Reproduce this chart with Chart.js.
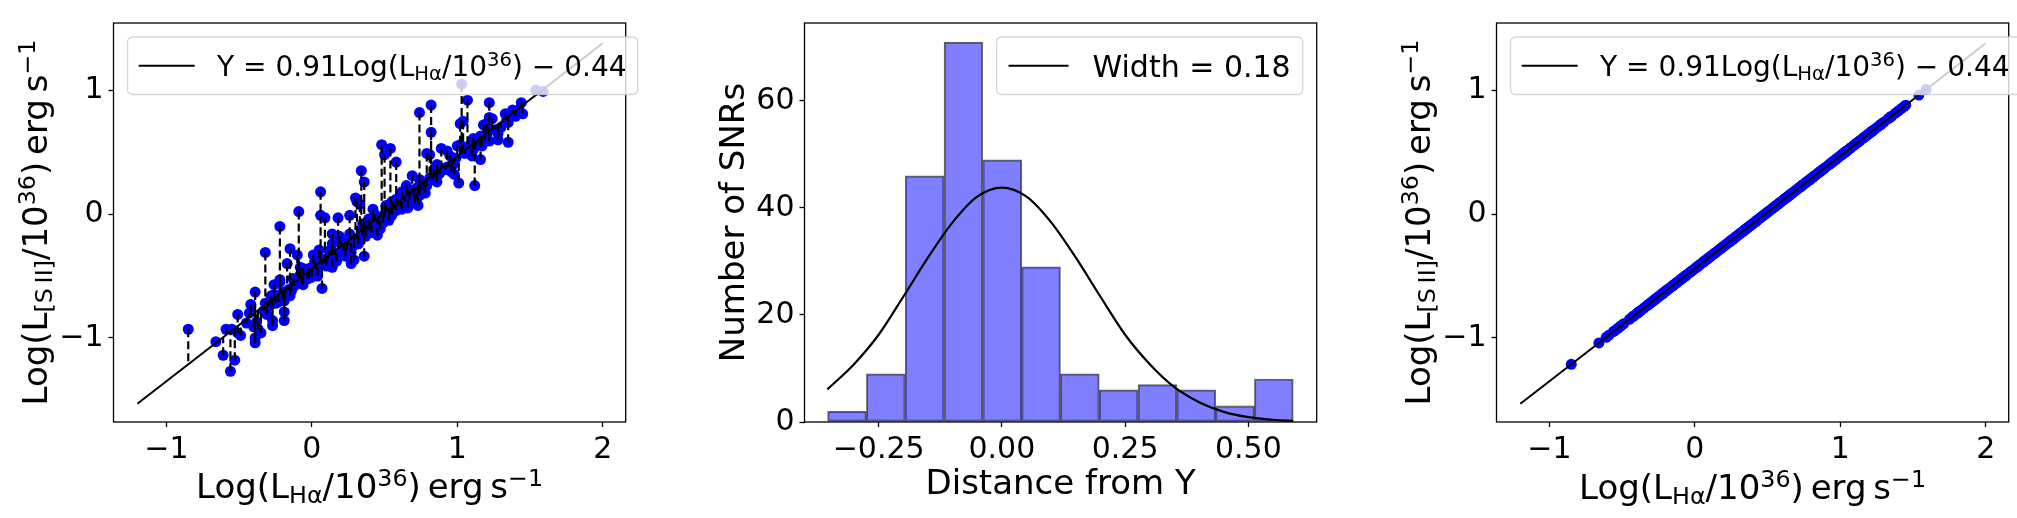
<!DOCTYPE html>
<html>
<head>
<meta charset="utf-8">
<script src="https://cdn.jsdelivr.net/npm/chart.js@4.4.1/dist/chart.umd.min.js"></script>
<style>
  html, body { margin: 0; padding: 0; background: #fff; overflow: hidden; width: 2017px; height: 518px; }
  canvas { position: absolute; top: 0; }
</style>
</head>
<body>
<canvas id="lumChart" width="670" height="518" style="left:0px"></canvas>
<canvas id="histChart" width="670" height="518" style="left:691px"></canvas>
<canvas id="projChart" width="634" height="518" style="left:1383px"></canvas>
<script>
const FONT = 'DejaVu Sans';
const TICK_SIZE = 30, TITLE_SIZE = 34;
const BLUE = '#0000ff';

// --- luminosity panels (left + right) ---
// log L(Halpha) for each SNR
const lumHa = [
  -0.85, -0.66, -0.61, -0.56, -0.53, -0.59, -0.55, -0.51, -0.49, -0.51,
  -0.42, -0.39, -0.42, -0.40, -0.38, -0.35, -0.39, -0.39, -0.37, -0.31,
  -0.26, -0.29, -0.27, -0.27, -0.19, -0.22, -0.23, -0.19, -0.16, -0.15,
  -0.20, -0.32, -0.22, -0.09, -0.15, -0.10, -0.17, -0.08, -0.06, -0.22,
  -0.20, -0.26, -0.32, -0.19, -0.12, -0.08, -0.03, 0.00, -0.06, 0.06,
  0.06, 0.09, 0.18, 0.26, 0.31, 0.33, 0.14, 0.19, 0.13, 0.01,
  0.06, 0.05, 0.09, 0.14, 0.07, -0.02, 0.02, 0.23, 0.27, 0.24,
  0.29, 0.36, 0.35, 0.39, 0.42, 0.28, 0.48, 0.54, 0.58, 0.50,
  0.34, 0.36, 0.30, 0.14, 0.24, 0.29, 0.42, 0.39, 0.43, 0.47,
  0.50, 0.55, 0.58, 0.45, 0.54, 0.65, 0.69, 0.72, 0.71, 0.74,
  0.78, 0.81, 0.84, 0.89, 0.93, 0.87, 0.92, 0.66, 0.63, 0.62,
  0.82, 0.74, 1.07, 1.22, 0.82, 1.02, 1.02, 1.07, 1.11, 1.12,
  1.16, 1.20, 1.22, 1.28, 1.33, 1.35, 1.38, 1.35, 1.22, 1.17,
  0.79, 1.00, 1.09, 0.93, 0.96, 0.98, 1.01, 0.81, 0.79, 0.77,
  0.86, 0.64, 0.72, 0.77, 0.59, 0.55, 0.62, 0.73, 1.14, 1.10,
  1.03, 1.44, 1.54, 1.59, 1.45, 1.40, 1.34, 1.28, 1.24, 1.18,
  1.21, 1.16, 1.11, 1.04, 1.04, -0.45, -0.33, -0.30, -0.25, -0.24,
  -0.18, -0.14, -0.12, -0.10, -0.07, -0.04, -0.02, 0.03, 0.04, 0.08,
  0.10, 0.11, 0.16, 0.17, 0.21, 0.22, 0.25, 0.27, 0.31, 0.32,
  0.34, 0.37, 0.38, 0.40, 0.41, 0.44, 0.46, 0.48, 0.49, 0.52,
  0.53, 0.56, 0.57, 0.60, 0.61, 0.64, 0.67, 0.68, 0.70, 0.75,
  0.76, 0.79, 0.83, 0.85, 0.88, 0.90, 0.94, 0.97, 0.99, 1.05,
  1.13, 1.19, 1.26, 1.30, 1.42, -0.43, -0.28, -0.13, 0.02, 0.12,
  0.20, 0.26, 0.35, 0.43, 0.51, 0.58, 0.66, 0.74, 0.86, 0.95
];
// log L([SII]) for each SNR, same order
const lumSii = [
  -0.93, -1.03, -1.14, -1.27, -1.18, -0.93, -0.93, -0.81, -0.98, -0.96,
  -0.73, -0.63, -0.79, -0.91, -0.87, -0.96, -1.00, -1.04, -0.93, -0.81,
  -0.57, -0.73, -0.86, -0.90, -0.79, -0.55, -0.71, -0.86, -0.61, -0.66,
  -0.69, -0.31, -0.10, 0.02, -0.28, -0.33, -0.40, -0.43, -0.44, -0.53,
  -0.63, -0.65, -0.72, -0.70, -0.56, -0.49, -0.52, -0.51, -0.57, 0.18,
  -0.01, -0.03, -0.03, -0.01, 0.10, 0.08, -0.16, -0.18, -0.29, -0.33,
  -0.36, -0.29, -0.39, -0.43, -0.60, -0.44, -0.40, -0.34, -0.40, -0.23,
  -0.25, -0.34, -0.18, -0.13, -0.03, -0.20, 0.56, 0.53, 0.42, 0.48,
  0.35, 0.26, 0.13, -0.24, -0.29, -0.37, 0.04, -0.04, -0.06, -0.12,
  -0.03, -0.01, 0.03, -0.17, 0.01, 0.23, 0.31, 0.21, 0.09, 0.15,
  0.17, 0.48, 0.36, 0.53, 0.51, 0.32, 0.36, 0.05, 0.13, 0.18,
  0.88, 0.82, 0.92, 0.90, 0.66, 0.73, 0.56, 0.53, 0.52, 0.23,
  0.44, 0.73, 0.78, 0.65, 0.81, 0.58, 0.84, 0.74, 0.59, 0.55,
  0.49, 0.55, 0.56, 0.38, 0.34, 0.32, 0.25, 0.29, 0.23, 0.21,
  0.26, 0.14, 0.12, 0.19, 0.07, 0.10, 0.04, 0.07, 0.58, 0.47,
  1.05, 0.90, 1.00, 0.99, 0.81, 0.79, 0.76, 0.60, 0.77, 0.72,
  0.66, 0.63, 0.61, 0.75, 0.54, -0.88, -0.78, -0.75, -0.72, -0.66,
  -0.64, -0.62, -0.58, -0.55, -0.56, -0.49, -0.52, -0.45, -0.50, -0.40,
  -0.42, -0.36, -0.33, -0.38, -0.27, -0.30, -0.25, -0.31, -0.20, -0.24,
  -0.14, -0.18, -0.12, -0.09, -0.15, -0.05, -0.09, -0.02, -0.07, 0.02,
  -0.05, 0.05, 0.03, 0.09, 0.06, 0.10, 0.12, 0.16, 0.15, 0.20,
  0.24, 0.26, 0.28, 0.30, 0.33, 0.37, 0.38, 0.40, 0.45, 0.49,
  0.55, 0.60, 0.68, 0.70, 0.84, -0.80, -0.66, -0.52, -0.38, -0.30,
  -0.22, -0.16, -0.08, 0.00, 0.07, 0.12, 0.20, 0.28, 0.40, 0.47
];
// fitted relation shown in the legend
const fitSlope = 0.91, fitIntercept = -0.44;
const fitEnds = [-1.2, 2.0];
const lumXTicks = [-1, 0, 1, 2];
const lumYTicks = [-1, 0, 1];
const lumXRange = [-1.364, 2.158];
const lumYRange = [-1.679, 1.543];

// --- histogram panel (middle) ---
const binEdges = [-0.3535, -0.2748, -0.1961, -0.1174, -0.0386, 0.0401, 0.1188,
                  0.1975, 0.2762, 0.3549, 0.4336, 0.5123, 0.5910];
const binCounts = [2, 9, 46, 71, 49, 29, 9, 6, 7, 6, 3, 8];
const gaussX = [-0.354, -0.30, -0.25, -0.20, -0.15, -0.10, -0.05, 0.00, 0.05, 0.10,
                0.15, 0.20, 0.25, 0.30, 0.35, 0.40, 0.45, 0.50, 0.55, 0.591];
const gaussY = [6.1, 10.8, 16.3, 23.4, 30.7, 37.3, 42.1, 43.8, 42.1, 37.3,
                30.7, 23.4, 16.3, 10.8, 6.5, 3.7, 1.9, 0.9, 0.42, 0.2];
const histXTicks = [-0.25, 0, 0.25, 0.5];
const histYTicks = [0, 20, 40, 60];
const histXRange = [-0.4004, 0.6386];
const histYRange = [0, 74.55];

// text pieces (sub/superscripts drawn by hand)
const lumXTitle = [{t: 'Log(L'}, {t: 'Hα', s: 'sub'}, {t: '/10'}, {t: '36', s: 'sup'}, {t: ')\u2009erg\u2009s'}, {t: '−1', s: 'sup'}];
const lumYTitle = [{t: 'Log(L'}, {t: '[S\u2009II]', s: 'sub'}, {t: '/10'}, {t: '36', s: 'sup'}, {t: ')\u2009erg\u2009s'}, {t: '−1', s: 'sup'}];
const fitLabel = [{t: 'Y = 0.91Log(L'}, {t: 'Hα', s: 'sub'}, {t: '/10'}, {t: '36', s: 'sup'}, {t: ') − 0.44'}];
const widthLabel = [{t: 'Width = 0.18'}];

const AREA = {left: 113.5, top: 9.3, right: 625.7, bottom: 422};

function setFont(ctx, p, size) {
  ctx.font = (p.s ? size * 0.7 : size) + 'px "' + FONT + '"';
}
function richWidth(ctx, parts, size) {
  let w = 0;
  for (const p of parts) { setFont(ctx, p, size); w += ctx.measureText(p.t).width; }
  return w;
}
function drawRich(ctx, parts, x, y, size) {
  for (const p of parts) {
    setFont(ctx, p, size);
    const dy = p.s === 'sub' ? 0.14 * size : (p.s === 'sup' ? -0.34 * size : 0);
    ctx.fillText(p.t, x, y + dy);
    x += ctx.measureText(p.t).width;
  }
}

function drawLegend(chart, parts, side, F) {
  const ctx = chart.ctx, a = chart.chartArea;
  ctx.save();
  const tw = richWidth(ctx, parts, F);
  const pad = 0.4 * F, hl = 2 * F, htp = 0.8 * F;
  const w = pad + hl + htp + tw + pad, h = 57.5;
  const x0 = side === 'left' ? a.left + 14 : a.right - 14 - w;
  const y0 = a.top + 14;
  const r = 5;
  ctx.beginPath();
  ctx.moveTo(x0 + r, y0);
  ctx.arcTo(x0 + w, y0, x0 + w, y0 + h, r);
  ctx.arcTo(x0 + w, y0 + h, x0, y0 + h, r);
  ctx.arcTo(x0, y0 + h, x0, y0, r);
  ctx.arcTo(x0, y0, x0 + w, y0, r);
  ctx.closePath();
  ctx.fillStyle = 'rgba(255,255,255,0.8)';
  ctx.fill();
  ctx.strokeStyle = 'rgba(204,204,204,0.8)';
  ctx.lineWidth = 1.3;
  ctx.stroke();
  const cy = y0 + h / 2;
  ctx.beginPath();
  ctx.moveTo(x0 + pad, cy);
  ctx.lineTo(x0 + pad + hl, cy);
  ctx.strokeStyle = '#000';
  ctx.lineWidth = 2;
  ctx.stroke();
  ctx.fillStyle = '#000';
  ctx.textBaseline = 'alphabetic';
  drawRich(ctx, parts, x0 + pad + hl + htp, cy + 0.36 * F, F);
  ctx.restore();
}

function panelPlugin(cfg) {
  return {
    id: 'panelDecor',
    afterDatasetsDraw(chart) {
      const ctx = chart.ctx, a = chart.chartArea;
      ctx.save();
      ctx.strokeStyle = '#000';
      ctx.lineWidth = 1.3;
      ctx.strokeRect(a.left, a.top, a.right - a.left, a.bottom - a.top);
      ctx.restore();
      drawLegend(chart, cfg.legend, cfg.legendSide, cfg.legendSize);
    },
    afterDraw(chart) {
      const ctx = chart.ctx, a = chart.chartArea;
      ctx.save();
      ctx.fillStyle = '#000';
      ctx.textBaseline = 'alphabetic';
      const cx = (a.left + a.right) / 2, cy = (a.top + a.bottom) / 2;
      const xw = richWidth(ctx, cfg.xTitle, TITLE_SIZE);
      drawRich(ctx, cfg.xTitle, cx - xw / 2, cfg.xTitleY, TITLE_SIZE);
      ctx.translate(a.left - cfg.yTitleGap, cy);
      ctx.rotate(-Math.PI / 2);
      const yw = richWidth(ctx, cfg.yTitle, TITLE_SIZE);
      drawRich(ctx, cfg.yTitle, -yw / 2, 0, TITLE_SIZE);
      ctx.restore();
    }
  };
}

function axis(tickValues, range, fmt, isX) {
  return {
    type: 'linear',
    min: range[0],
    max: range[1],
    offset: false,
    afterBuildTicks: s => { s.ticks = tickValues.map(v => ({value: v})); },
    afterFit: s => {
      if (isX) s.height = 518 - AREA.bottom;
      else s.width = AREA.left;
    },
    grid: {
      display: true, drawOnChartArea: false, drawTicks: true, offset: false,
      tickLength: 5, tickWidth: 1.3, tickColor: '#000'
    },
    border: {display: false},
    ticks: {
      color: '#000',
      font: {family: FONT, size: TICK_SIZE},
      padding: isX ? 5 : 5,
      autoSkip: false, maxRotation: 0, minRotation: 0,
      callback: fmt
    }
  };
}

const fmtInt = v => (v < 0 ? '−' : '') + Math.abs(v);
const fmtHist = v => (v < 0 ? '−' : '') + Math.abs(v).toFixed(2);
const fitAt = x => fitSlope * x + fitIntercept;

function baseOptions(canvasWidth, xScale, yScale) {
  return {
    responsive: false,
    animation: false,
    events: [],
    layout: {padding: {left: 0, top: AREA.top, right: canvasWidth - AREA.right, bottom: 0}},
    plugins: {legend: {display: false}, tooltip: {enabled: false}},
    scales: {x: xScale, y: yScale}
  };
}

const fitLineData = fitEnds.map(x => ({x, y: fitAt(x)}));

// left: observed points with dashed offsets to the fit
const dashData = [];
lumHa.forEach((x, i) => {
  dashData.push({x, y: lumSii[i]}, {x, y: fitAt(x)}, {x, y: null});
});

new Chart(document.getElementById('lumChart'), {
  type: 'scatter',
  data: {
    datasets: [
      {type: 'line', data: fitLineData, borderColor: '#000', borderWidth: 2, pointRadius: 0, order: 0},
      {type: 'line', data: dashData, borderColor: '#000', borderWidth: 2.2, borderDash: [8, 4],
       pointRadius: 0, spanGaps: false, order: 1},
      {data: lumHa.map((x, i) => ({x, y: lumSii[i]})), backgroundColor: BLUE, borderColor: BLUE,
       borderWidth: 0, pointRadius: 5.5, order: 2}
    ]
  },
  options: baseOptions(670, axis(lumXTicks, lumXRange, fmtInt, true), axis(lumYTicks, lumYRange, fmtInt, false)),
  plugins: [panelPlugin({legend: fitLabel, legendSide: 'left', legendSize: 28, xTitle: lumXTitle, xTitleY: 498,
                         yTitle: lumYTitle, yTitleGap: 66.5})]
});

// middle: histogram of distances with gaussian
new Chart(document.getElementById('histChart'), {
  type: 'bar',
  data: {
    datasets: [
      {type: 'line', data: gaussX.map((x, i) => ({x, y: gaussY[i]})), borderColor: '#000', borderWidth: 2.2,
       pointRadius: 0, cubicInterpolationMode: 'monotone', order: 0},
      {type: 'bar', data: binCounts.map((c, i) => ({x: (binEdges[i] + binEdges[i + 1]) / 2, y: c})),
       backgroundColor: 'rgba(0,0,255,0.5)', borderColor: 'rgba(0,0,0,0.6)', borderWidth: 1.3,
       borderSkipped: false, barPercentage: 1, categoryPercentage: 1, grouped: false, order: 1}
    ]
  },
  options: baseOptions(670, axis(histXTicks, histXRange, fmtHist, true), axis(histYTicks, histYRange, v => String(v), false)),
  plugins: [panelPlugin({legend: widthLabel, legendSide: 'right', legendSize: 30, xTitle: [{t: 'Distance from Y'}], xTitleY: 494,
                         yTitle: [{t: 'Number of SNRs'}], yTitleGap: 60.8})]
});

// right: the same SNRs placed on the fit
new Chart(document.getElementById('projChart'), {
  type: 'scatter',
  data: {
    datasets: [
      {type: 'line', data: fitLineData, borderColor: '#000', borderWidth: 2, pointRadius: 0, order: 0},
      {data: lumHa.map(x => ({x, y: fitAt(x)})), backgroundColor: BLUE, borderColor: BLUE,
       borderWidth: 0, pointRadius: 5.5, order: 1}
    ]
  },
  options: baseOptions(634, axis(lumXTicks, lumXRange, fmtInt, true), axis(lumYTicks, lumYRange, fmtInt, false)),
  plugins: [panelPlugin({legend: fitLabel, legendSide: 'left', legendSize: 28, xTitle: lumXTitle, xTitleY: 499,
                         yTitle: lumYTitle, yTitleGap: 66.5})]
});
</script>
</body>
</html>
